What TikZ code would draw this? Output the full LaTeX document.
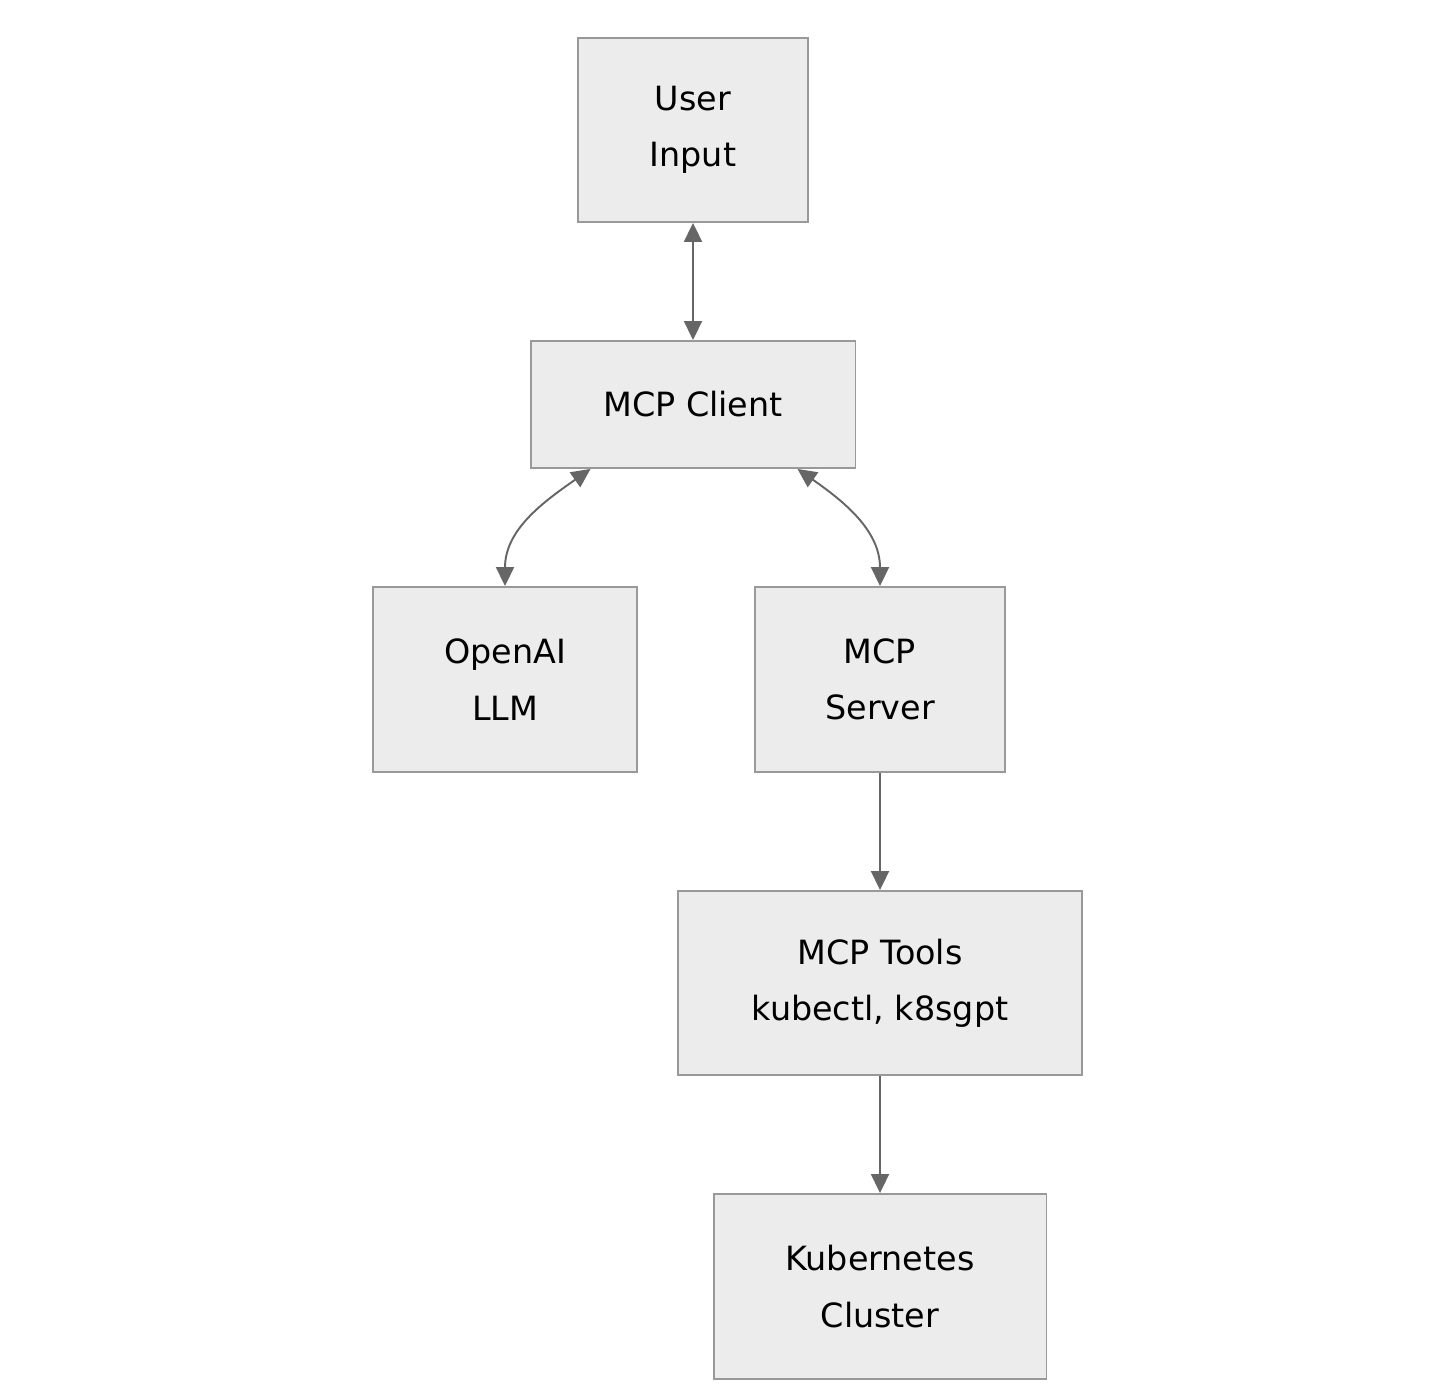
\documentclass[tikz,border=0pt]{standalone}
\usepackage{fontspec}
\setmainfont{DejaVu Sans}
\usepackage{xcolor}
\usetikzlibrary{arrows.meta, positioning}
\definecolor{boxfill}{HTML}{ECECEC}
\definecolor{boxline}{HTML}{999999}
\definecolor{linkgray}{HTML}{666666}

\begin{document}
\begin{tikzpicture}[x=0.02cm, y=-0.02cm]
    % Styles
    \tikzstyle{box} = [draw=boxline, line width=1.1pt, fill=boxfill, align=center, font=\fontsize{19}{32}\selectfont, inner sep=0pt]
    \tikzstyle{arrow} = [draw=linkgray, line width=1.1pt, -{Triangle[length=0.38cm, width=0.36cm]}]
    \tikzstyle{biarrow} = [draw=linkgray, line width=1.1pt, {Triangle[length=0.38cm, width=0.36cm]}-{Triangle[length=0.38cm, width=0.36cm]}]

    \useasboundingbox (0,0) rectangle (1437,1398);

    % Nodes
    \node[box, minimum width=4.6cm, minimum height=3.68cm] (user) at (693,130) {User\\Input};
    \node[box, minimum width=6.5cm, minimum height=2.54cm] (client) at (693,404.5) {MCP Client};
    \node[box, minimum width=5.28cm, minimum height=3.7cm] (llm) at (505,679.5) {OpenAI\\LLM};
    \node[box, minimum width=5cm, minimum height=3.7cm] (server) at (880,679.5) {MCP\\Server};
    \node[box, minimum width=8.08cm, minimum height=3.68cm] (tools) at (880,983) {MCP Tools\\kubectl, k8sgpt};
    \node[box, minimum width=6.66cm, minimum height=3.7cm] (k8s) at (880,1286.5) {Kubernetes\\Cluster};

    % Arrows
    \draw[biarrow] (user) -- (client);
    \draw[biarrow] ([xshift=-2.05cm]client.south) to[out=-145, in=90] (llm.north);
    \draw[biarrow] ([xshift=2.09cm]client.south) to[out=-35, in=90] (server.north);
    \draw[arrow] (server) -- (tools);
    \draw[arrow] (tools) -- (k8s);
\end{tikzpicture}
\end{document}
